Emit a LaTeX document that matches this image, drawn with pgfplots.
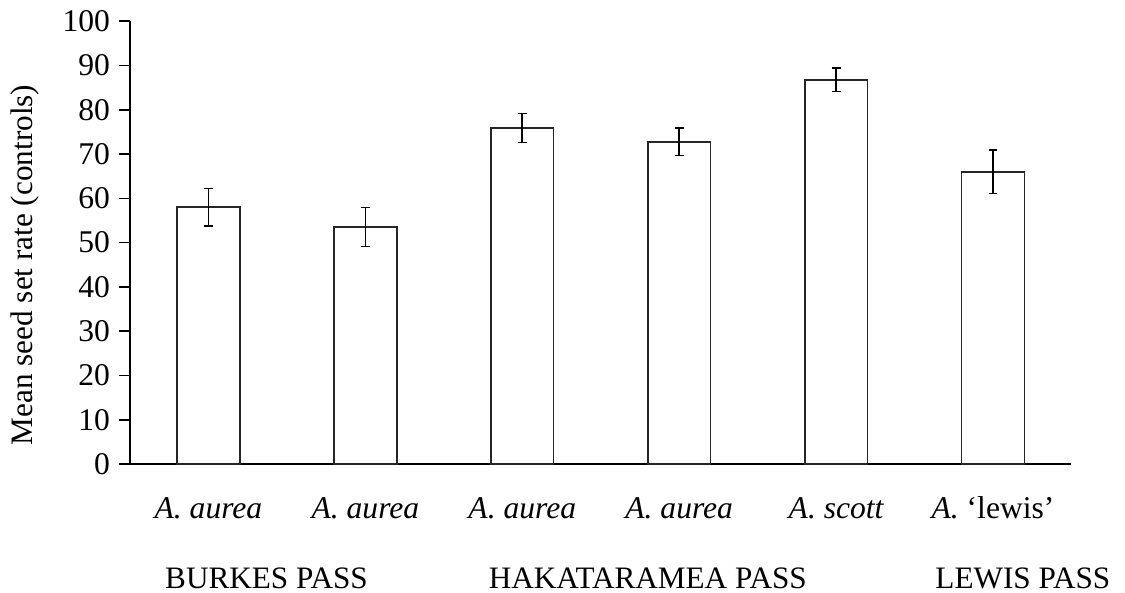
\documentclass[border=0pt]{standalone}
\usepackage{pgfplots}
\pgfplotsset{compat=1.18}
\usepackage{fontspec}
\setmainfont{Liberation Serif}
\begin{document}
\begin{tikzpicture}
\useasboundingbox (-65pt,-64.5pt) rectangle (497.5pt,232pt);
\begin{axis}[
  at={(0,0)}, anchor=south west,
  scale only axis,
  width=470.75pt, height=221.35pt,
  xmin=-0.5, xmax=5.5,
  ymin=0, ymax=100,
  axis x line*=bottom, axis y line*=left,
  axis line style={black, line width=0.8pt, -},
  ytick={0,10,...,100},
  xtick={0,1,2,3,4,5},
  xticklabels={{\itshape A. aurea},{\itshape A. aurea},{\itshape A. aurea},{\itshape A. aurea},{\itshape A. scott},{\itshape A.} `lewis'},
  x tick style={draw=none},
  y tick style={black, line width=0.8pt},
  tick align=outside,
  major tick length=5.5pt,
  /pgf/number format/assume math mode=true,
  tick label style={font=\fontsize{15.8}{18}\selectfont, black},
  yticklabel style={xshift=-1pt},
  xticklabel style={anchor=base, yshift=-21.8pt},
  ylabel={Mean seed set rate (controls)},
  ylabel style={font=\fontsize{15.6}{18}\selectfont, at={(rel axis cs:-0.1115,0.4495)}, anchor=center},
  clip=false,
]
\addplot[ybar, bar width=31.35pt, fill=white, draw=black!85, line width=0.8pt,
  error bars/.cd, y dir=both, y explicit,
  error bar style={line width=0.8pt, black},
  error mark options={rotate=90, mark size=2.2pt, line width=0.8pt, black}]
  coordinates {
  (0,58.0) +- (0,4.2)
  (1,53.5) +- (0,4.4)
  (2,75.9) +- (0,3.3)
  (3,72.8) +- (0,3.1)
  (4,86.8) +- (0,2.7)
  (5,66.0) +- (0,4.9)
  };
\node[anchor=base, font=\fontsize{15.6}{18}\selectfont, yshift=-62.5pt] at (axis cs:0.37,0) {BURKES PASS};
\node[anchor=base, font=\fontsize{15.6}{18}\selectfont, yshift=-62.5pt] at (axis cs:2.80,0) {HAKATARAMEA PASS};
\node[anchor=base, font=\fontsize{15.6}{18}\selectfont, yshift=-62.5pt] at (axis cs:5.19,0) {LEWIS PASS};
\end{axis}
\end{tikzpicture}
\end{document}
